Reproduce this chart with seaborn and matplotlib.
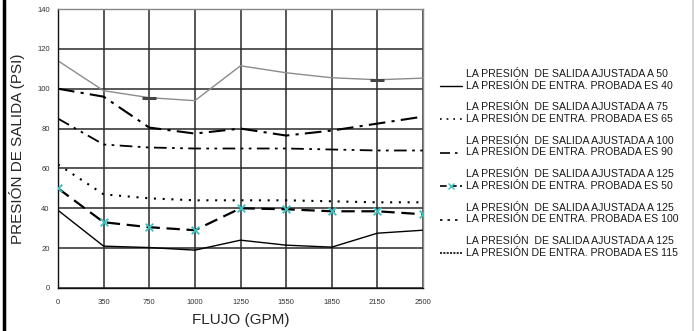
import matplotlib
matplotlib.use("Agg")
import matplotlib.pyplot as plt
from matplotlib.lines import Line2D
from matplotlib.legend_handler import HandlerLine2D
import seaborn as sns
import pandas as pd

# ---- data ----
flow_labels = ["0", "350", "750", "1000", "1250", "1550", "1850", "2150", "2500"]
s_50_40 = [39, 21, 20.3, 19, 24, 21.5, 20.5, 27.5, 29]
s_75_65 = [62, 47, 45, 44, 44, 44, 43.5, 43, 43]
s_100_90 = [85, 72, 70.5, 70, 70, 70, 69.5, 69, 69]
s_125_50 = [50, 33, 30.5, 29, 40, 39.5, 38.5, 38.5, 37]
s_125_100 = [100, 96, 80.5, 77.5, 80, 76.5, 79, 82.5, 86]
s_125_115 = [114, 99, 95.5, 94, 111.5, 108, 105.5, 104.5, 105.3]

labels = [
    "LA PRESIÓN  DE SALIDA AJUSTADA A 50\nLA PRESIÓN DE ENTRA. PROBADA ES 40",
    "LA PRESIÓN  DE SALIDA AJUSTADA A 75\nLA PRESIÓN DE ENTRA. PROBADA ES 65",
    "LA PRESIÓN  DE SALIDA AJUSTADA A 100\nLA PRESIÓN DE ENTRA. PROBADA ES 90",
    "LA PRESIÓN  DE SALIDA AJUSTADA A 125\nLA PRESIÓN DE ENTRA. PROBADA ES 50",
    "LA PRESIÓN  DE SALIDA AJUSTADA A 125\nLA PRESIÓN DE ENTRA. PROBADA ES 100",
    "LA PRESIÓN  DE SALIDA AJUSTADA A 125\nLA PRESIÓN DE ENTRA. PROBADA ES 115",
]
y_ticks = [0, 20, 40, 60, 80, 100, 120, 140]

sns.set_style("white")
plt.rcParams["font.family"] = ["Liberation Sans", "DejaVu Sans"]

fig = plt.figure(figsize=(6.94, 3.31), dpi=100)
ax = fig.add_axes([58 / 694, 43 / 331, 365 / 694, 279 / 331])

pos = list(range(len(flow_labels)))
series = [s_50_40, s_75_65, s_100_90, s_125_50, s_125_100, s_125_115]
styles = [
    dict(color="black", lw=1.0, ls="-"),
    dict(color="black", lw=1.5, ls=(0, (1, 3.2))),
    dict(color="black", lw=1.3, ls=(0, (7, 3, 1.5, 3, 1.5, 3))),
    dict(color="black", lw=1.6, ls=(0, (6, 3))),
    dict(color="black", lw=1.5, ls=(0, (8, 3, 1.5, 3))),
    dict(color="#8c8c8c", lw=1.0, ls="-"),
]

for vals, st in zip(series, styles):
    df = pd.DataFrame({"x": pos, "y": vals})
    sns.lineplot(data=df, x="x", y="y", ax=ax, color=st["color"],
                 linewidth=st["lw"], linestyle=st["ls"], legend=False)

# markers for the 125/50 series
df4 = pd.DataFrame({"x": pos, "y": s_125_50})
sns.scatterplot(data=df4, x="x", y="y", ax=ax, marker="x", color="#36c3c3",
                s=30, linewidth=1.3, zorder=5, legend=False)
# small dark segments on the grey series
df6 = pd.DataFrame({"x": [pos[2], pos[7]], "y": [s_125_115[2], s_125_115[7]]})
sns.scatterplot(data=df6, x="x", y="y", ax=ax, marker="_", color="#444444",
                s=90, linewidth=2.2, zorder=5, legend=False)

ax.set_xlim(0, len(flow_labels) - 1)
ax.set_ylim(0, 140)
ax.set_xticks(pos)
ax.set_xticklabels(flow_labels)
ax.set_yticks(y_ticks)
ax.tick_params(axis="both", labelsize=5.5, colors="#333333", length=3,
               width=0.8, direction="out", pad=3)
ax.tick_params(axis="x", pad=5)
ax.grid(True, color="#2a2a2a", linewidth=1.1)
for s in ["top", "right"]:
    ax.spines[s].set_color("#888888")
    ax.spines[s].set_linewidth(1.0)
for s in ["left", "bottom"]:
    ax.spines[s].set_color("#111111")
    ax.spines[s].set_linewidth(1.0)
ax.set_xlabel("FLUJO (GPM)", fontsize=11)
ax.set_ylabel("PRESIÓN DE SALIDA (PSI)", fontsize=11)
ax.yaxis.label.set_va("center")
ax.yaxis.set_label_coords(-41 / 365, 0.5)
ax.xaxis.label.set_va("center")
ax.xaxis.set_label_coords(0.5, -32 / 279)


class LowHandler(HandlerLine2D):
    """Place the legend key next to the second line of a two-line label."""
    def create_artists(self, legend, orig_handle, xdescent, ydescent,
                       width, height, fontsize, trans):
        return super().create_artists(legend, orig_handle, xdescent,
                                      ydescent + 8.5, width, height,
                                      fontsize, trans)


handles = [
    Line2D([], [], color="black", lw=1.0, ls="-"),
    Line2D([], [], color="black", lw=1.2, ls=(0, (1, 3))),
    Line2D([], [], color="black", lw=1.2, ls=(0, (6, 3, 1.5, 3, 1.5, 3))),
    Line2D([], [], color="black", lw=1.2, ls=(0, (4, 2)), marker="x",
           markersize=4, markeredgecolor="#36c3c3", markevery=[1]),
    Line2D([], [], color="black", lw=1.2, ls=(0, (1.5, 3, 1.5, 3))),
    Line2D([], [], color="#333333", lw=1.5, ls=(0, (1, 0.6))),
]
hmap = {h: LowHandler() for h in handles}
leg = fig.legend(handles, labels, loc="upper left",
                 bbox_to_anchor=(440 / 694, 1 - 69 / 331),
                 frameon=False, fontsize=7.6, handlelength=2.1, handletextpad=0.35,
                 labelspacing=1.12, borderaxespad=0, borderpad=0,
                 handler_map=hmap)
for t in leg.get_texts():
    t.set_linespacing(1.2)
    t.set_color("#1a1a1a")

# figure border lines
fig.add_artist(Line2D([4 / 694, 4 / 694], [0, 1], color="black", lw=2.5,
                      transform=fig.transFigure))
fig.add_artist(Line2D([692.5 / 694, 692.5 / 694], [0, 1], color="#cccccc", lw=1.2,
                      transform=fig.transFigure))

fig.savefig("out.png", dpi=100)
